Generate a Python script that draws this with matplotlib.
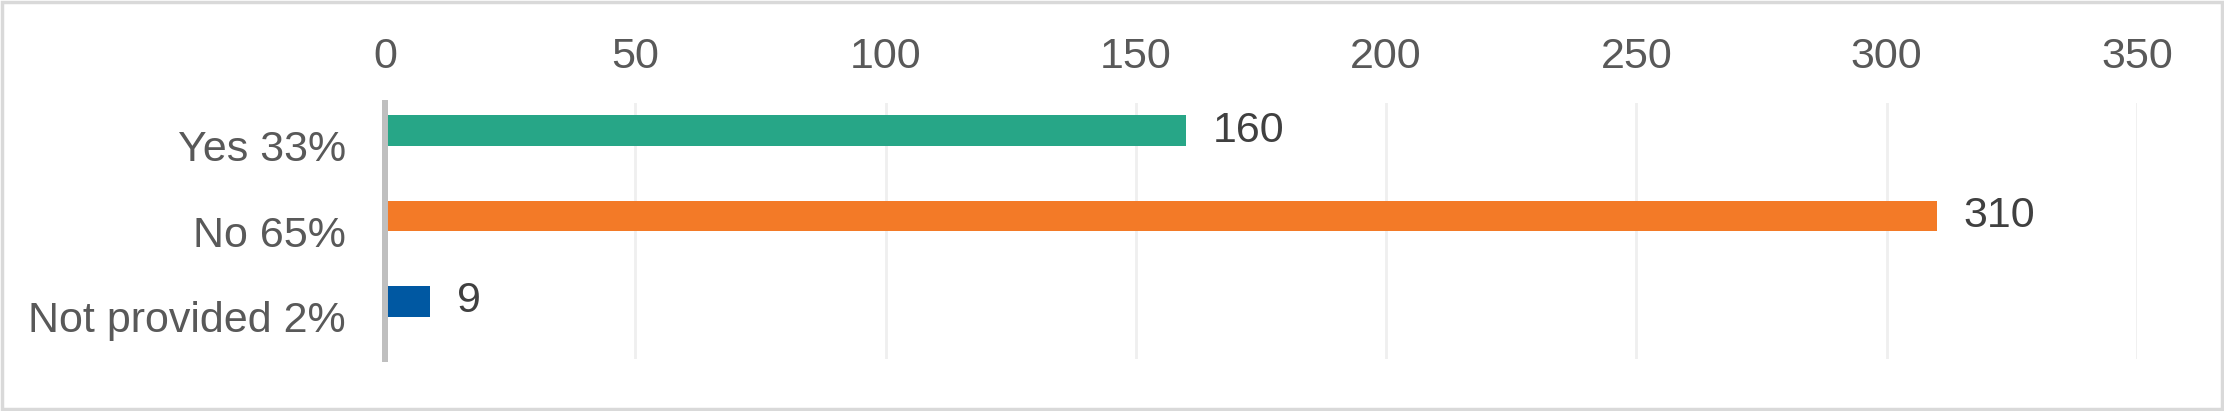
import matplotlib
matplotlib.use("Agg")
import matplotlib.pyplot as plt
from matplotlib.patches import Rectangle

categories = ["Yes 33%", "No 65%", "Not provided 2%"]
values = [160, 310, 9]
bar_colors = ["#27A687", "#F37A27", "#0058A2"]
x_ticks = [0, 50, 100, 150, 200, 250, 300, 350]

plt.rcParams['font.family'] = ['Liberation Sans', 'DejaVu Sans']

W, H, DPI = 2224, 411, 100
FS = 31
fig = plt.figure(figsize=(W / DPI, H / DPI), dpi=DPI)
fig.patch.set_facecolor("white")

# outer chart border
fig.add_artist(Rectangle((0.0007, 0.004), 0.9986, 0.992, transform=fig.transFigure,
                         fill=False, edgecolor="#D9D9D9", linewidth=2.5))

ax = fig.add_axes([385 / W, 52 / H, (2137 - 385) / W, (359 - 103) / H])

pos = list(range(len(categories)))
offset = 0.175
bar_pos = [p - offset for p in pos]
ax.barh(bar_pos, values, height=0.36, color=bar_colors, zorder=3)

for y, v in zip(bar_pos, values):
    ax.annotate(str(v), xy=(v, y), xytext=(27, 0), textcoords="offset pixels",
                ha="left", va="center", fontsize=FS, color="#404040", zorder=4)

ax.set_xlim(0, 350)
ax.set_ylim(len(categories) - 0.5, -0.5)
ax.set_xticks(x_ticks)
ax.set_xticklabels([str(t) for t in x_ticks])
ax.set_yticks(pos)
ax.set_yticklabels(categories)

ax.xaxis.tick_top()
ax.tick_params(axis="x", length=0, pad=19, labelsize=FS, labelcolor="#595959")
ax.tick_params(axis="y", length=0, pad=28, labelsize=FS, labelcolor="#595959")

ax.grid(axis="x", color="#EFEFEF", linewidth=2, zorder=0)
ax.grid(axis="y", visible=False)

for s in ["top", "right", "bottom"]:
    ax.spines[s].set_visible(False)
ax.spines["left"].set_color("#BFBFBF")
ax.spines["left"].set_linewidth(4.3)
ax.spines["left"].set_zorder(5)

fig.savefig("out.png", dpi=DPI, facecolor="white")
